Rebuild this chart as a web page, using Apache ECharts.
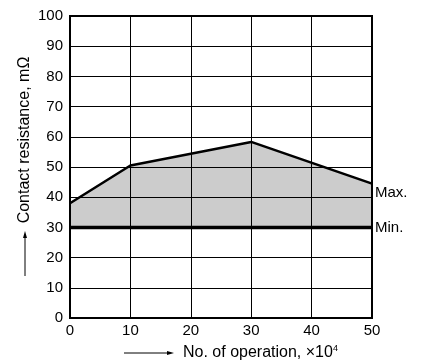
<!DOCTYPE html>
<html><head><meta charset="utf-8">
<script src="https://cdn.jsdelivr.net/npm/echarts@6/dist/echarts.min.js"></script>
<style>html,body{margin:0;padding:0;background:#fff}#c{width:426px;height:363px}</style>
</head><body><div id="c"></div>
<script>
const xValues = [0, 10, 30, 50];
const maxValues = [38, 50.5, 58.3, 44.5];
const minValues = [30, 30, 30, 30];
const xTicks = [0, 10, 20, 30, 40, 50];
const yTicks = [0, 10, 20, 30, 40, 50, 60, 70, 80, 90, 100];

const F = 'Liberation Sans, Arial, sans-serif';
const pairs = (ys) => xValues.map((x, i) => [x, ys[i]]);

const chart = echarts.init(document.getElementById('c'), null, {renderer: 'canvas'});
chart.setOption({
  animation: false,
  backgroundColor: '#fff',
  textStyle: {fontFamily: F},
  grid: {left: 70, right: 54, top: 16, bottom: 45, show: true, borderColor: '#000', borderWidth: 2, backgroundColor: 'transparent'},
  xAxis: {
    type: 'value', min: 0, max: 50, interval: 10,
    axisLine: {show: true, lineStyle: {color: '#000', width: 2}},
    axisTick: {show: false},
    axisLabel: {color: '#000', fontSize: 15, fontFamily: F, margin: 5},
    splitLine: {show: true, lineStyle: {color: '#000', width: 1}}
  },
  yAxis: {
    type: 'value', min: 0, max: 100, interval: 10,
    axisLine: {show: true, lineStyle: {color: '#000', width: 2}},
    axisTick: {show: false},
    axisLabel: {color: '#000', fontSize: 15, fontFamily: F, margin: 7},
    splitLine: {show: true, lineStyle: {color: '#000', width: 1}}
  },
  series: [
    {type: 'line', data: pairs(maxValues), symbol: 'none', z: 5,
      lineStyle: {color: '#000', width: 2.5},
      areaStyle: {color: 'rgba(0,0,0,0.2)', opacity: 1, origin: minValues[0]},
      endLabel: {show: true, formatter: 'Max.', color: '#000', fontSize: 15, fontFamily: F, distance: 3, offset: [0, 9]}},
    {type: 'line', data: pairs(minValues), symbol: 'none', z: 5,
      lineStyle: {color: '#000', width: 3.5},
      endLabel: {show: true, formatter: 'Min.', color: '#000', fontSize: 15, fontFamily: F, distance: 3}}
  ],
  graphic: [
    {type: 'text', x: 25, y: 140, rotation: Math.PI / 2,
      style: {text: 'Contact resistance, mΩ', font: '16px ' + F, fill: '#000', align: 'center', verticalAlign: 'middle'}},
    {type: 'line', shape: {x1: 25, y1: 276, x2: 25, y2: 236}, style: {stroke: '#000', lineWidth: 1}},
    {type: 'polygon', shape: {points: [[25, 231], [23, 238], [27, 238]]}, style: {fill: '#000'}},
    {type: 'line', shape: {x1: 124, y1: 353, x2: 168, y2: 353}, style: {stroke: '#000', lineWidth: 1}},
    {type: 'polygon', shape: {points: [[174, 353], [167, 351], [167, 355]]}, style: {fill: '#000'}},
    {type: 'text', x: 183, y: 353,
      style: {text: '{a|No. of operation, ×10}{s|4}', fill: '#000', verticalAlign: 'middle', align: 'left',
        rich: {a: {fontSize: 16, fontFamily: F, fill: '#000'}, s: {fontSize: 9, fontFamily: F, fill: '#000', padding: [0, 0, 9, 0]}}}}
  ]
});
</script></body></html>
